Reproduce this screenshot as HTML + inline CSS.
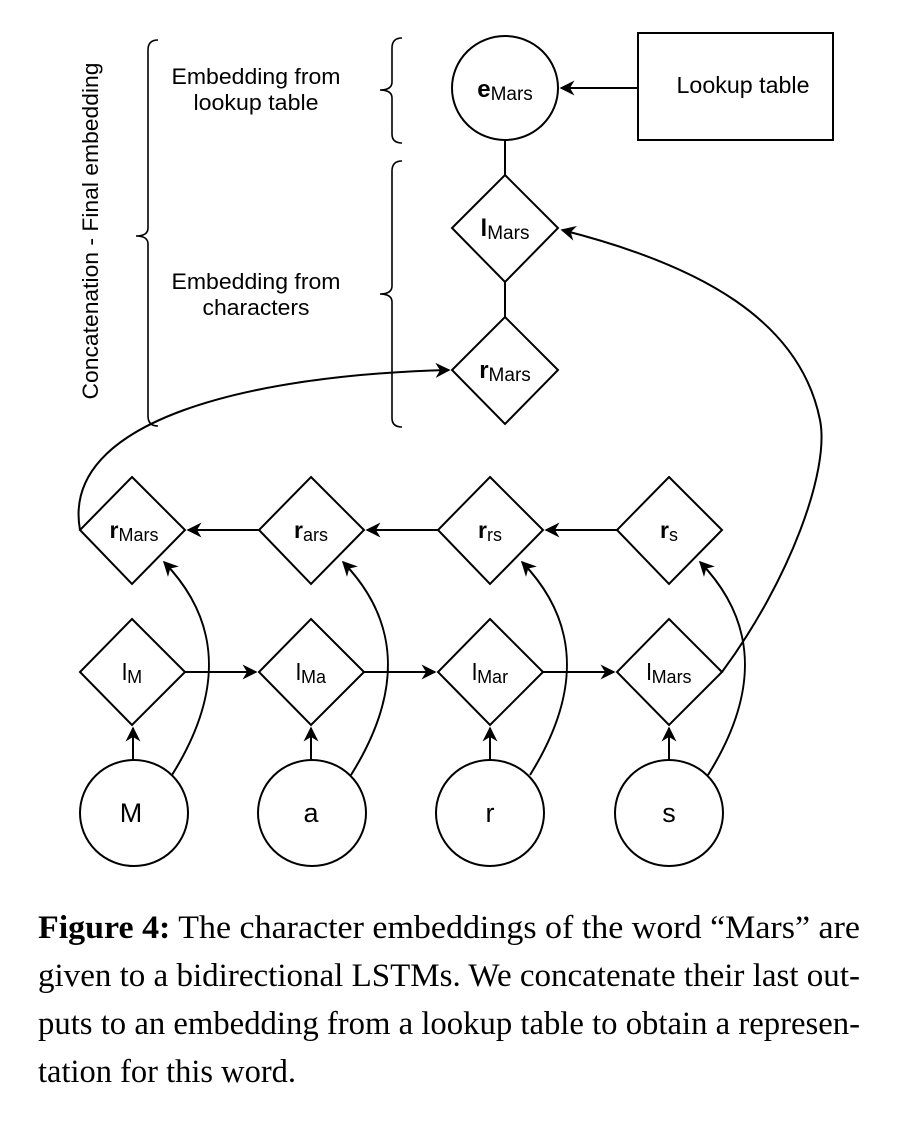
<!DOCTYPE html>
<html><head><meta charset="utf-8"><style>
html,body{margin:0;padding:0;background:#fff;}
svg{display:block;}
.s{font-family:"Liberation Sans",sans-serif;}
.c{font-family:"Liberation Serif",serif;font-size:33px;}
</style></head><body>
<svg width="900" height="1122" viewBox="0 0 900 1122" xmlns="http://www.w3.org/2000/svg">
<defs>
<marker id="b" viewBox="0 0 10 10" refX="9" refY="5" markerWidth="15" markerHeight="15" orient="auto" markerUnits="userSpaceOnUse">
<path d="M0,0 L10,5 L0,10 L3,5 z" fill="#000"/>
</marker>
</defs>
<g fill="none" stroke="#000" stroke-width="2">
<ellipse cx="505" cy="88" rx="53" ry="52" fill="#fff"/>
<rect x="638" y="33" width="195" height="107"/>
<line x1="638" y1="88" x2="561" y2="88" marker-end="url(#b)"/>
<line x1="505" y1="140" x2="505" y2="175"/>
<polygon points="505,175 558,228 505,282 452,228"/>
<line x1="505" y1="282" x2="505" y2="317"/>
<polygon points="505,317 558,370 505,424 452,370"/>
<path d="M158,40 Q148,40 148,50 L148,228 Q148,236 136,236 Q148,236 148,244 L148,416 Q148,426 158,426" stroke-width="1.6"/>
<path d="M402,38 Q392,38 392,48 L392,82 Q392,90 380,90 Q392,90 392,98 L392,134 Q392,143 402,143" stroke-width="1.6"/>
<path d="M402,161 Q392,161 392,171 L392,286 Q392,294 380,294 Q392,294 392,302 L392,418 Q392,427 402,427" stroke-width="1.6"/>
<polygon points="132,477 185,530 132,584 80,530"/>
<polygon points="311,477 364,530 311,584 259,530"/>
<polygon points="490,477 543,530 490,584 438,530"/>
<polygon points="669,477 722,530 669,584 617,530"/>
<line x1="617" y1="530" x2="546" y2="530" marker-end="url(#b)"/>
<line x1="438" y1="530" x2="367" y2="530" marker-end="url(#b)"/>
<line x1="259" y1="530" x2="188" y2="530" marker-end="url(#b)"/>
<polygon points="132,619 185,672 132,725 80,672"/>
<polygon points="311,619 364,672 311,725 259,672"/>
<polygon points="490,619 543,672 490,725 438,672"/>
<polygon points="669,619 722,672 669,725 617,672"/>
<line x1="185" y1="672" x2="256" y2="672" marker-end="url(#b)"/>
<line x1="364" y1="672" x2="435" y2="672" marker-end="url(#b)"/>
<line x1="543" y1="672" x2="614" y2="672" marker-end="url(#b)"/>
<ellipse cx="134" cy="813" rx="54" ry="53"/>
<ellipse cx="312" cy="813" rx="54" ry="53"/>
<ellipse cx="490" cy="813" rx="54" ry="53"/>
<ellipse cx="669" cy="813" rx="54" ry="53"/>
<line x1="133" y1="760" x2="133" y2="728" marker-end="url(#b)"/>
<line x1="311" y1="760" x2="311" y2="728" marker-end="url(#b)"/>
<line x1="490" y1="760" x2="490" y2="728" marker-end="url(#b)"/>
<line x1="669" y1="760" x2="669" y2="728" marker-end="url(#b)"/>
<path d="M172,775 C225,690 220,620 164,562" marker-end="url(#b)"/>
<path d="M351,775 C404,690 399,620 343,562" marker-end="url(#b)"/>
<path d="M530,775 C583,690 578,620 522,562" marker-end="url(#b)"/>
<path d="M708,775 C761,690 756,620 700,562" marker-end="url(#b)"/>
<path d="M80,530 C60,420 250,375 449,370" marker-end="url(#b)"/>
<path d="M722,672 C790,580 830,470 820,420 C800,320 700,265 562,230" marker-end="url(#b)"/>
</g>
<g class="s" fill="#000" text-anchor="middle">
<text x="505" y="97" font-size="24"><tspan font-weight="bold">e</tspan><tspan font-size="19" dy="3">Mars</tspan></text>
<text x="743" y="93" font-size="23" textLength="133" lengthAdjust="spacingAndGlyphs">Lookup table</text>
<text x="505" y="236" font-size="24"><tspan font-weight="bold">l</tspan><tspan font-size="19" dy="3">Mars</tspan></text>
<text x="505" y="378" font-size="24"><tspan font-weight="bold">r</tspan><tspan font-size="19" dy="3">Mars</tspan></text>
<text x="256" y="84" font-size="22" textLength="169" lengthAdjust="spacingAndGlyphs">Embedding from</text>
<text x="256" y="110" font-size="22" textLength="125" lengthAdjust="spacingAndGlyphs">lookup table</text>
<text x="256" y="289" font-size="22" textLength="169" lengthAdjust="spacingAndGlyphs">Embedding from</text>
<text x="256" y="315" font-size="22" textLength="107" lengthAdjust="spacingAndGlyphs">characters</text>
<text transform="translate(98,231) rotate(-90)" font-size="22" textLength="337" lengthAdjust="spacingAndGlyphs">Concatenation - Final embedding</text>
<text x="134" y="538" font-size="23"><tspan font-weight="bold">r</tspan><tspan font-size="18" dy="3">Mars</tspan></text>
<text x="311" y="538" font-size="23"><tspan font-weight="bold">r</tspan><tspan font-size="18" dy="3">ars</tspan></text>
<text x="490" y="538" font-size="23"><tspan font-weight="bold">r</tspan><tspan font-size="18" dy="3">rs</tspan></text>
<text x="669" y="538" font-size="23"><tspan font-weight="bold">r</tspan><tspan font-size="18" dy="3">s</tspan></text>
<text x="132" y="680" font-size="23">l<tspan font-size="18" dy="3">M</tspan></text>
<text x="311" y="680" font-size="23">l<tspan font-size="18" dy="3">Ma</tspan></text>
<text x="490" y="680" font-size="23">l<tspan font-size="18" dy="3">Mar</tspan></text>
<text x="669" y="680" font-size="23">l<tspan font-size="18" dy="3">Mars</tspan></text>
<text x="131" y="822" font-size="27">M</text>
<text x="311" y="822" font-size="27">a</text>
<text x="490" y="822" font-size="27">r</text>
<text x="669" y="822" font-size="27">s</text>
</g>
<g class="c" fill="#000">
<text x="38" y="938" textLength="822" lengthAdjust="spacingAndGlyphs"><tspan font-weight="bold">Figure 4:</tspan> The character embeddings of the word “Mars” are</text>
<text x="38" y="986" textLength="822" lengthAdjust="spacingAndGlyphs">given to a bidirectional LSTMs. We concatenate their last out-</text>
<text x="38" y="1034" textLength="822" lengthAdjust="spacingAndGlyphs">puts to an embedding from a lookup table to obtain a represen-</text>
<text x="38" y="1082" textLength="258" lengthAdjust="spacingAndGlyphs">tation for this word.</text>
</g>
</svg>
</body></html>
